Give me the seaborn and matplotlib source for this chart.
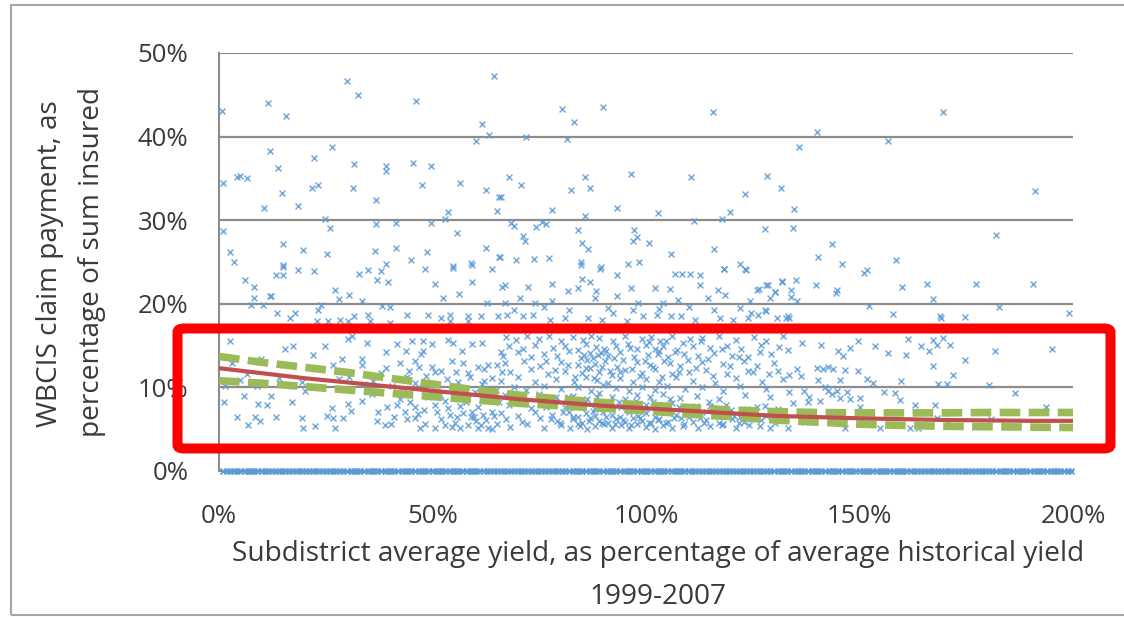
import matplotlib
matplotlib.use("Agg")
import matplotlib.pyplot as plt
from matplotlib.patches import FancyBboxPatch, Rectangle
from matplotlib.ticker import FuncFormatter
import pandas as pd
import seaborn as sns

# claim payments (% of sum insured) vs subdistrict yield (% of historical avg)
high_pts = [
    (0.8, 43.1), (11.5, 44.0), (15.8, 42.5), (30.0, 46.7), (32.5, 45.0), (46.2, 44.2), (64.3, 47.2),
    (61.7, 41.5), (60.3, 39.5), (63.2, 40.2), (11.9, 38.3), (26.4, 38.7), (22.2, 37.5), (13.8, 36.2),
    (31.5, 36.7), (39.2, 36.5), (39.2, 35.9), (45.4, 36.8), (49.6, 36.5), (1.0, 34.5), (4.1, 35.2),
    (4.9, 35.3), (6.6, 35.0), (14.7, 33.3), (21.7, 33.8), (23.3, 34.2), (31.4, 33.9), (47.5, 34.2),
    (56.5, 34.4), (62.5, 33.6), (65.6, 32.8), (10.5, 31.4), (18.4, 31.7), (36.8, 32.4), (65.2, 31.1),
    (53.6, 31.0), (24.8, 30.2), (52.9, 30.2), (26.0, 29.1), (36.8, 29.5), (41.5, 29.7), (49.6, 29.7),
    (1.0, 28.7), (55.7, 28.5), (15.1, 27.2), (2.6, 26.2), (19.7, 26.4), (25.2, 26.0), (36.6, 26.3),
    (41.5, 26.7), (48.7, 26.2), (62.5, 26.7), (3.4, 25.0), (14.9, 24.6), (39.2, 24.8), (44.9, 25.2),
    (59.0, 24.9), (65.5, 25.6), (54.7, 24.5),
    (80.3, 43.3), (90.0, 43.6), (83.1, 41.7), (71.9, 39.9), (81.4, 39.7), (115.8, 42.9),
    (67.8, 35.2), (70.7, 34.2), (85.6, 35.2), (96.5, 35.5), (110.6, 35.2), (128.4, 35.3), (131.5, 33.8),
    (82.4, 33.6), (87.0, 33.8), (123.2, 33.1), (66.0, 32.8), (78.1, 31.2), (93.3, 31.5), (102.9, 30.9),
    (119.6, 31.0), (85.6, 30.5), (68.4, 29.7), (69.2, 29.3), (74.2, 29.2), (75.7, 29.8), (76.6, 29.5),
    (111.2, 29.9), (117.9, 30.2), (127.9, 29.0), (84.1, 28.8), (97.3, 28.8), (98.0, 28.0), (97.0, 27.5),
    (71.1, 28.1), (71.7, 27.5), (85.0, 27.3), (86.3, 26.6), (100.7, 27.3), (115.9, 26.6), (105.8, 25.9),
    (69.5, 25.2), (73.8, 25.4), (77.3, 25.5), (84.7, 25.0), (84.7, 24.6), (89.4, 24.4), (95.9, 24.8),
    (98.4, 25.0), (122.0, 24.8), (123.2, 24.2), (118.3, 24.2), (65.8, 25.6),
    (169.5, 42.9), (140.0, 40.5), (156.7, 39.5), (135.9, 38.7), (191.2, 33.5), (134.7, 31.3),
    (134.5, 29.1), (182.0, 28.2), (143.5, 27.1), (140.2, 25.6), (146.0, 24.8), (158.5, 25.2),
    (151.7, 24.0), (151.0, 23.7), (139.9, 22.2), (160.0, 22.0), (165.8, 22.4), (177.4, 22.4),
    (190.6, 22.4), (167.3, 20.6), (144.5, 21.3), (133.9, 21.7), (135.2, 22.8), (131.9, 22.7),
    (128.5, 22.3), (126.5, 21.8), (130.2, 21.4), (133.9, 20.8), (135.3, 20.3), (144.7, 21.6),
    (15.1, 24.4), (18.6, 24.0), (22.3, 23.9), (13.3, 23.4), (15.1, 23.5), (32.8, 23.6), (34.8, 24.0),
    (37.9, 23.9), (36.9, 22.8), (39.5, 22.6), (48.2, 24.2), (54.9, 24.3), (59.2, 24.6), (63.9, 24.2),
    (6.2, 22.8), (8.3, 22.0), (27.2, 21.7), (28.0, 20.6), (30.4, 21.0), (50.6, 22.4), (59.2, 22.6),
    (56.2, 21.2), (52.4, 20.7), (8.3, 20.7), (12.2, 20.9), (66.2, 22.0), (62.7, 20.1), (33.4, 20.3),
    (11.9, 20.9), (89.2, 24.2), (93.1, 23.4), (84.9, 23.0), (86.9, 22.6), (106.8, 23.6), (108.4, 23.6),
    (110.3, 23.6), (112.6, 23.4), (118.2, 24.2), (123.4, 24.0), (72.4, 22.0), (77.9, 22.4), (81.8, 21.5),
    (84.1, 21.9), (88.4, 21.5), (96.6, 21.9), (102.1, 21.9), (105.6, 21.8), (112.6, 22.3), (116.9, 21.6),
    (125.9, 21.6), (128.2, 22.2), (130.2, 21.4), (131.8, 22.6), (67.0, 22.2), (67.0, 20.1), (70.5, 20.7),
    (74.0, 20.1), (77.9, 20.3), (88.0, 20.7), (93.1, 20.9), (98.2, 20.1), (104.0, 20.1), (107.6, 20.5),
    (114.6, 20.7), (118.5, 21.1), (124.4, 20.3), (129.1, 20.7),
]

mid_pts = [
    (7.5, 19.9), (10.2, 19.9), (24.0, 19.9), (23.3, 19.3), (38.1, 19.7), (40.1, 19.6), (13.5, 18.9),
    (17.8, 18.9), (16.6, 18.3), (22.9, 18.0), (31.5, 18.5), (35.0, 18.7), (35.4, 18.0), (40.1, 17.7),
    (44.0, 18.7), (49.0, 18.7), (52.1, 18.3), (54.1, 18.7), (54.1, 18.0), (58.4, 18.5), (58.4, 18.0),
    (61.4, 18.5), (65.3, 18.5), (25.6, 17.9), (28.4, 18.1), (30.3, 17.9),
    (2.6, 15.5), (15.5, 14.6), (17.4, 15.0), (21.9, 13.9), (24.8, 15.0), (26.8, 12.7), (28.9, 13.4),
    (31.1, 16.1), (33.4, 13.4), (34.6, 15.3), (33.4, 12.7), (39.0, 14.2), (41.8, 15.2), (43.9, 14.4),
    (45.2, 15.5), (47.7, 14.4), (47.4, 14.0), (49.9, 15.2), (53.7, 15.7), (54.9, 15.3), (56.8, 14.3),
    (59.2, 15.2), (61.5, 15.3), (66.0, 14.2), (42.4, 12.9), (45.9, 13.2), (46.8, 12.5), (49.8, 12.5),
    (52.1, 12.0), (54.5, 13.1), (57.2, 12.9), (58.4, 11.7), (60.7, 12.5), (63.1, 12.7), (65.0, 12.7),
    (66.2, 11.9), (47.7, 15.6), (30.1, 15.8), (3.0, 12.9), (6.5, 11.6), (9.8, 13.4), (1.5, 10.2),
    (5.0, 10.9), (9.0, 10.2), (14.0, 11.1), (19.5, 10.6), (28.0, 11.0), (36.0, 10.8), (44.0, 11.2),
    (62.0, 10.8), (38.0, 11.7), (30.5, 11.2), (34.0, 10.4), (37.5, 11.3), (40.5, 10.2), (43.0, 11.0),
    (46.0, 10.5), (48.5, 11.4), (51.0, 10.3), (53.5, 11.0), (56.0, 10.6), (58.8, 11.3), (61.5, 10.4),
    (64.0, 11.1), (39.0, 12.3), (44.5, 12.0), (50.5, 11.9), (55.5, 11.8), (62.0, 12.2),
    (67.4, 18.7), (71.3, 18.5), (73.6, 18.7), (77.5, 18.1), (81.0, 18.3), (86.5, 18.3), (89.6, 18.1),
    (92.3, 18.9), (95.5, 17.9), (99.4, 18.5), (102.5, 18.7), (105.8, 18.5), (108.3, 18.6), (111.5, 18.1),
    (117.3, 18.3), (120.4, 18.1), (124.0, 18.3), (126.3, 18.7), (130.6, 18.3), (132.9, 18.3),
    (69.0, 19.3), (76.0, 19.6), (82.0, 19.2), (91.0, 19.5), (97.0, 19.2), (103.0, 19.4), (110.0, 19.6),
    (116.0, 19.2), (122.0, 19.5), (128.0, 19.1),
    (67.2, 16.0), (69.6, 15.7), (72.1, 16.2), (75.0, 15.8), (77.3, 16.1), (80.1, 15.6), (83.0, 16.0),
    (85.2, 15.7), (87.1, 16.2), (89.0, 15.9), (92.2, 15.6), (95.1, 16.1), (99.0, 15.8), (101.2, 16.0),
    (103.3, 15.6), (106.0, 16.2), (110.2, 15.8), (113.1, 15.9), (117.0, 16.1), (121.0, 15.7),
    (125.2, 16.0), (128.0, 15.6), (132.0, 16.1),
    (68.0, 14.9), (71.1, 14.6), (74.0, 15.1), (78.2, 14.7), (81.0, 15.0), (84.1, 14.5), (86.0, 15.2),
    (88.2, 14.8), (90.1, 14.6), (93.0, 15.0), (96.2, 14.7), (100.0, 15.1), (102.1, 14.6), (104.0, 14.9),
    (107.2, 14.5), (111.0, 15.0), (115.1, 14.7), (119.0, 14.9), (122.2, 14.6), (127.0, 15.1), (131.1, 14.8),
    (66.5, 13.8), (70.0, 14.2), (73.1, 13.6), (76.0, 14.0), (79.2, 13.7), (82.0, 14.3), (85.5, 13.9),
    (87.5, 13.5), (89.5, 14.1), (91.0, 13.7), (94.0, 14.2), (97.1, 13.6), (100.5, 13.9), (103.0, 14.3),
    (105.1, 13.6), (109.0, 14.0), (112.2, 13.7), (116.0, 14.1), (120.1, 13.8), (124.0, 13.6), (129.2, 14.0),
    (67.0, 12.9), (71.5, 13.2), (75.1, 12.6), (80.0, 13.0), (84.0, 12.7), (86.1, 13.3), (88.0, 12.8),
    (90.5, 13.1), (93.1, 12.5), (98.0, 13.0), (101.0, 12.7), (104.1, 13.2), (108.0, 12.6), (113.0, 13.0),
    (118.1, 12.8), (123.0, 13.1), (126.1, 12.6), (130.0, 12.9),
    (68.1, 11.8), (73.0, 12.2), (77.0, 11.6), (81.1, 12.0), (85.0, 11.7), (87.0, 12.3), (89.1, 11.9),
    (92.0, 11.5), (95.0, 12.1), (99.1, 11.7), (102.0, 12.2), (106.1, 11.6), (110.0, 11.9), (114.1, 12.1),
    (119.0, 11.6), (125.1, 11.8), (131.0, 12.0),
    (66.0, 10.8), (70.1, 11.2), (74.1, 10.6), (79.0, 11.0), (83.1, 10.7), (86.0, 11.3), (88.5, 10.9),
    (91.1, 10.5), (94.0, 11.1), (97.0, 10.7), (100.1, 11.0), (103.1, 10.6), (107.0, 11.2), (111.1, 10.8),
    (116.1, 10.5), (121.0, 11.1), (127.1, 10.7), (132.1, 11.0),
    (76.5, 13.1), (78.6, 12.1), (81.8, 12.7), (83.4, 11.3), (84.8, 13.5), (85.9, 12.3), (86.8, 14.1),
    (87.9, 11.1), (88.7, 13.9), (89.8, 12.4), (90.7, 14.4), (91.6, 12.0), (92.6, 13.5), (93.8, 11.8),
    (94.7, 13.3), (95.8, 15.2), (96.7, 12.2), (97.8, 14.6), (98.6, 11.4), (99.7, 13.2), (100.8, 15.4),
    (101.7, 12.4), (102.8, 14.0), (103.7, 11.3), (104.8, 15.6), (105.7, 12.9), (106.7, 14.2),
    (107.8, 11.9), (108.7, 15.3), (109.8, 13.3), (111.7, 12.3), (112.8, 15.6), (114.6, 13.4),
    (115.8, 11.4), (117.8, 14.6), (119.6, 12.6), (121.7, 13.6), (123.8, 12.0), (126.6, 14.2), (128.7, 11.6),
    (136.5, 15.3), (140.9, 15.1), (145.0, 14.4), (146.2, 13.8), (147.8, 14.7), (149.6, 15.5), (153.6, 14.9),
    (156.7, 14.1), (161.0, 13.9), (161.4, 15.8), (164.3, 14.9), (166.3, 14.4), (167.3, 15.7), (168.2, 15.1),
    (169.6, 15.9), (171.2, 15.1), (174.8, 13.3), (181.7, 14.4), (195.0, 14.6), (133.3, 14.5), (167.1, 12.6),
    (171.8, 11.5), (133.5, 11.5), (135.3, 12.2), (140.1, 12.3), (141.5, 12.2), (142.7, 12.5), (143.9, 12.2),
    (146.5, 12.1), (149.6, 12.0), (136.2, 11.4), (140.2, 10.9), (145.4, 10.9), (151.7, 11.0), (153.2, 10.5),
    (159.7, 10.8), (168.3, 10.4), (170.6, 10.4), (180.3, 10.3), (141.9, 10.0),
    (169.2, 18.3), (133.5, 18.3), (152.2, 19.7), (157.8, 18.8), (182.7, 19.6), (199.1, 18.9),
    (124.7, 18.9), (127.9, 19.3), (168.9, 18.5), (174.7, 18.4), (133.3, 18.5),
]

low_pts = [
    (1.2, 8.3), (5.9, 9.0), (9.2, 8.0), (11.2, 7.9), (12.2, 9.0), (17.0, 8.3), (20.1, 9.6), (26.4, 7.5),
    (30.3, 8.0), (30.9, 7.2), (33.4, 8.4), (35.8, 9.2), (37.2, 7.1), (39.3, 7.7), (41.8, 7.9), (43.5, 7.1),
    (45.9, 7.6), (47.9, 7.3), (50.6, 7.9), (51.0, 7.1), (53.7, 7.5), (54.1, 6.7), (56.5, 7.8), (57.2, 6.9),
    (59.2, 7.1), (60.7, 7.7), (61.9, 6.7), (63.9, 7.1), (65.5, 8.3),
    (4.2, 6.4), (6.9, 5.5), (8.4, 6.4), (9.6, 6.0), (13.3, 6.4), (19.5, 6.3), (19.7, 5.1), (22.5, 5.4),
    (25.2, 6.6), (26.8, 6.3), (27.2, 5.2), (29.1, 6.3), (36.9, 6.0), (38.9, 5.5), (44.0, 6.2), (45.9, 6.3),
    (48.2, 5.6), (50.6, 5.2), (52.9, 5.5), (55.3, 5.7), (56.5, 5.2), (58.4, 5.5), (60.3, 6.0), (60.7, 5.2),
    (63.1, 5.2), (65.2, 5.6), (41.0, 6.5), (42.5, 8.6), (46.5, 6.8), (48.9, 8.8), (52.0, 6.2), (53.0, 8.4),
    (55.8, 6.4), (57.8, 8.2), (59.8, 6.4), (62.5, 6.1), (62.8, 8.5), (64.5, 6.6), (40.2, 5.6), (47.0, 5.1),
    (54.5, 5.3), (58.9, 6.5), (61.3, 5.5), (64.0, 5.0), (43.0, 9.4), (49.5, 9.6), (55.0, 9.3), (60.0, 9.5),
    (64.8, 9.7), (44.7, 8.3), (51.8, 9.1), (57.5, 9.7),
    (69.0, 10.1), (72.0, 9.7), (76.1, 10.2), (80.1, 9.8), (84.1, 10.0), (87.1, 9.6), (90.0, 10.3),
    (93.0, 9.9), (96.0, 9.6), (99.0, 10.1), (102.1, 9.7), (105.0, 10.2), (109.1, 9.8), (113.1, 10.0),
    (118.0, 9.6), (122.1, 10.2), (128.0, 9.8),
    (67.0, 9.1), (71.0, 8.7), (75.0, 9.2), (79.0, 8.8), (83.0, 9.0), (86.1, 8.6), (89.0, 9.3), (92.0, 8.9),
    (95.0, 8.6), (98.0, 9.1), (101.0, 8.8), (104.0, 9.2), (108.0, 8.7), (112.0, 9.0), (117.1, 8.6),
    (123.1, 9.1), (129.0, 8.8),
    (68.0, 7.9), (73.1, 7.5), (77.0, 8.1), (81.0, 7.6), (85.1, 7.9), (88.0, 7.4), (91.1, 8.0), (94.1, 7.6),
    (97.1, 7.3), (100.0, 7.9), (103.0, 7.5), (106.0, 8.1), (110.1, 7.4), (115.0, 7.8), (120.0, 7.3),
    (126.0, 7.6), (131.0, 7.4),
    (66.1, 6.9), (70.0, 6.6), (74.0, 7.1), (78.0, 6.7), (82.0, 7.0), (84.0, 6.5), (86.0, 6.9), (88.1, 6.6),
    (90.0, 7.1), (92.1, 6.7), (94.0, 6.5), (96.1, 7.0), (98.1, 6.6), (100.1, 6.9), (102.0, 6.5),
    (104.1, 7.0), (107.1, 6.7), (110.0, 6.5), (113.0, 7.0), (116.0, 6.6), (119.1, 6.9), (122.0, 6.5),
    (125.0, 6.8), (128.1, 6.6), (132.0, 6.9),
    (67.1, 6.2), (71.0, 5.9), (75.1, 6.3), (79.1, 6.0), (83.0, 6.2), (85.0, 5.8), (87.0, 6.3), (89.1, 6.0),
    (91.0, 5.8), (93.0, 6.2), (95.1, 5.9), (97.0, 6.3), (99.0, 6.0), (101.1, 5.8), (103.1, 6.2),
    (105.1, 5.9), (108.1, 6.3), (111.0, 5.9), (114.0, 6.1), (117.0, 5.8), (120.1, 6.2), (123.0, 5.9),
    (127.0, 6.1), (130.1, 5.8),
    (68.1, 5.3), (72.1, 5.6), (76.0, 5.1), (80.0, 5.5), (82.1, 5.2), (84.1, 5.6), (86.1, 5.0), (88.0, 5.4),
    (90.1, 5.6), (92.0, 5.1), (94.1, 5.5), (96.0, 5.2), (98.0, 5.6), (100.0, 5.3), (102.1, 5.0),
    (104.0, 5.5), (106.1, 5.2), (109.0, 5.6), (112.1, 5.1), (115.1, 5.4), (118.0, 5.6), (121.1, 5.2),
    (124.1, 5.5), (129.1, 5.1),
    (76.6, 7.7), (77.8, 6.2), (78.7, 8.4), (79.8, 5.8), (80.6, 7.1), (81.7, 8.9), (82.8, 6.4), (83.7, 7.6),
    (84.6, 5.4), (85.7, 8.3), (86.7, 6.0), (87.6, 7.2), (88.6, 8.8), (89.6, 5.7), (90.6, 6.4), (91.7, 7.6),
    (92.7, 5.6), (93.7, 8.3), (94.6, 6.1), (95.7, 7.3), (96.6, 5.5), (97.7, 8.4), (98.7, 6.3), (99.6, 7.5),
    (100.6, 5.7), (101.6, 8.3), (102.7, 6.1), (103.6, 7.2), (104.6, 5.8), (105.6, 8.6), (106.6, 6.3),
    (107.7, 7.7), (108.6, 5.4), (109.6, 6.9), (111.6, 7.8), (112.6, 6.3), (113.7, 5.7), (114.7, 8.3),
    (116.7, 7.2), (117.7, 5.5), (118.7, 7.9), (120.7, 6.6), (121.8, 5.7), (123.7, 7.4), (124.8, 6.2),
    (126.7, 5.4), (127.8, 7.8), (130.7, 6.4),
    (186.4, 9.3), (133.6, 9.5), (137.1, 9.6), (138.2, 8.9), (137.9, 8.3), (140.8, 8.4), (142.6, 9.6),
    (143.5, 9.2), (144.7, 9.6), (145.4, 8.7), (147.0, 9.4), (147.8, 8.6), (150.1, 8.7), (150.1, 7.6),
    (155.8, 9.4), (158.3, 9.3), (159.5, 8.5), (163.0, 7.9), (167.7, 7.9), (134.5, 8.1), (193.7, 7.7),
    (133.3, 5.1), (137.2, 5.9), (143.5, 5.9), (146.5, 5.1), (150.5, 6.1), (154.8, 5.1), (161.8, 5.1),
    (163.8, 5.1), (170.8, 5.7), (177.0, 5.3), (180.8, 6.2), (184.1, 5.3), (168.1, 6.3),
]

# subdistricts with no claim (0%) - dense row along the axis
zero_x = [
    1, 1.8, 2.5, 3.5, 4.2, 5, 6, 6.8, 7.5, 8.3, 9, 10, 10.8, 11.5, 12.3, 13, 14, 14.8, 15.5, 16.3, 17,
    18, 18.8, 19.5, 20.3, 21, 22, 22.8, 23.5, 24.3, 25, 26, 26.8, 27.5, 28.3, 29, 30, 30.8, 31.5, 32.3,
    33, 34, 34.8, 35.5, 36.3, 37, 38, 38.8, 39.5, 40.3, 41, 42, 42.8, 43.5, 44.3, 45, 46, 46.8, 47.5,
    48.3, 49, 50, 50.8, 51.5, 52.3, 53, 54, 54.8, 55.5, 56.3, 57, 58, 58.8, 59.5, 60.3, 61, 62, 62.8,
    63.5, 64.3, 65, 66, 66.8, 67.5, 68.3, 69, 70, 70.8, 71.5, 72.3, 73, 74, 74.8, 75.5, 76.3, 77, 78,
    78.8, 79.5, 80.3, 81, 82, 82.8, 83.5, 84.3, 85, 86, 86.8, 87.5, 88.3, 89, 90, 90.8, 91.5, 92.3, 93,
    94, 94.8, 95.5, 96.3, 97, 98, 98.8, 99.5, 100.3, 101, 102, 102.8, 103.5, 104.3, 105, 106, 106.8,
    107.5, 108.3, 109, 110, 110.8, 111.5, 112.3, 113, 114, 114.8, 115.5, 116.3, 117, 118, 118.8, 119.5,
    120.3, 121, 122, 122.8, 123.5, 124.3, 125, 126, 126.8, 127.5, 128.3, 129, 130, 130.8, 131.5, 132.3,
    133, 134, 134.8, 135.5, 136.3, 137, 138, 138.8, 139.5, 140.3, 141, 142, 142.8, 143.5, 144.3, 145,
    146, 146.8, 147.5, 148.3, 149, 150, 150.8, 151.5, 152.3, 153, 154, 154.8, 155.5, 156.3, 157, 158,
    158.8, 159.5, 160.3, 161, 162, 162.8, 163.5, 164.3, 165, 166, 166.8, 167.5, 168.3, 169, 170, 170.8,
    171.5, 172.3, 173, 174, 174.8, 175.5, 176.3, 177, 178, 178.8, 179.5, 180.3, 181, 182, 182.8, 183.5,
    184.3, 185, 186, 186.8, 187.5, 188.3, 189, 190, 190.8, 191.5, 192.3, 193, 194, 194.8, 195.5, 196.3,
    197, 198, 198.8, 199.5,
]

# fitted line and its confidence band
fit_x = [0, 10, 20, 30, 40, 50, 60, 70, 80, 90, 100, 110, 120, 130, 140, 150, 160, 170, 180, 190, 200]
fit_mid = [12.3, 11.7, 11.1, 10.6, 10.1, 9.6, 9.1, 8.6, 8.2, 7.8, 7.5, 7.2, 6.9, 6.6, 6.45, 6.3, 6.2,
           6.1, 6.05, 6.0, 6.0]
fit_hi = [13.7, 13.0, 12.4, 11.8, 11.1, 10.4, 9.7, 9.1, 8.6, 8.2, 7.9, 7.6, 7.3, 7.1, 7.0, 6.95, 6.95,
          6.95, 7.0, 7.0, 7.0]
fit_lo = [10.8, 10.5, 10.1, 9.7, 9.3, 8.9, 8.5, 8.1, 7.8, 7.5, 7.2, 6.8, 6.5, 6.1, 5.85, 5.6, 5.45,
          5.35, 5.3, 5.25, 5.2]

sns.set_theme(style="white")
plt.rcParams['font.family'] = ['Open Sans', 'DejaVu Sans']
txt = '#3a3a3a'
grey = '#8c8c8c'

pts = pd.DataFrame(high_pts + mid_pts + low_pts, columns=['yield_pct', 'claim_pct'])
zeros = pd.DataFrame({'yield_pct': zero_x, 'claim_pct': [0] * len(zero_x)})
fit = pd.DataFrame({'x': fit_x, 'mid': fit_mid, 'hi': fit_hi, 'lo': fit_lo})

W, H = 1124, 617
fig = plt.figure(figsize=(W / 100, H / 100), dpi=100)
ax = fig.add_axes([219 / W, 1 - 471 / H, (1073 - 219) / W, (471 - 53) / H])

blue = '#5b9bd5'
sns.scatterplot(data=pts, x='yield_pct', y='claim_pct', ax=ax, marker='x', s=18,
                color=blue, linewidth=1.1, alpha=0.85, zorder=3)
sns.scatterplot(data=zeros, x='yield_pct', y='claim_pct', ax=ax, marker='x', s=18,
                color=blue, linewidth=1.3, clip_on=False, zorder=4)

dash = (0, (2.7, 1.1))
sns.lineplot(data=fit, x='x', y='hi', ax=ax, color='#9bbb59', linewidth=5.5, linestyle=dash, zorder=5)
sns.lineplot(data=fit, x='x', y='lo', ax=ax, color='#9bbb59', linewidth=5.5, linestyle=dash, zorder=5)
sns.lineplot(data=fit, x='x', y='mid', ax=ax, color='#c0504d', linewidth=3, zorder=6)

ax.set_xlim(0, 200)
ax.set_ylim(0, 50)
ax.set_xticks([0, 50, 100, 150, 200])
ax.set_yticks([0, 10, 20, 30, 40, 50])
pct = FuncFormatter(lambda v, p: f'{v:.0f}%')
ax.xaxis.set_major_formatter(pct)
ax.yaxis.set_major_formatter(pct)
ax.tick_params(axis='both', which='major', direction='out', length=7, width=1.5, color=grey,
               labelsize=18.5, labelcolor=txt)
ax.tick_params(axis='x', pad=17)
ax.tick_params(axis='y', pad=15)
ax.yaxis.grid(True, color=grey, linewidth=1.6)
ax.set_axisbelow(True)
for s in ['top', 'right']:
    ax.spines[s].set_visible(False)
for s in ['left', 'bottom']:
    ax.spines[s].set_color(grey)
    ax.spines[s].set_linewidth(1.5)
ax.set_xlabel('')
ax.set_ylabel('')

fig.text(658 / W, 1 - 554 / H, 'Subdistrict average yield, as percentage of average historical yield',
         ha='center', va='center', fontsize=20.2, color=txt)
fig.text(658 / W, 1 - 597 / H, '1999-2007', ha='center', va='center', fontsize=20.2, color=txt)
fig.text(50 / W, 1 - 264 / H, 'WBCIS claim payment, as', rotation=90, ha='center', va='center',
         fontsize=20.2, color=txt)
fig.text(92 / W, 1 - 262 / H, 'percentage of sum insured', rotation=90, ha='center', va='center',
         fontsize=20.2, color=txt)

# outer frame of the original picture
fig.add_artist(Rectangle((11 / W, 1 - 615 / H), 1.2, (615 - 5) / H, transform=fig.transFigure,
                         fill=False, edgecolor='#a6a6a6', linewidth=1.5))

# red highlight box
fig.add_artist(FancyBboxPatch((177.5 / W, 1 - 448.5 / H), 933 / W, 120 / H,
                              boxstyle='round,pad=0,rounding_size=0.006', transform=fig.transFigure,
                              fill=False, edgecolor='#ff0000', linewidth=7.2, zorder=10))

fig.savefig('out.png', dpi=100)
